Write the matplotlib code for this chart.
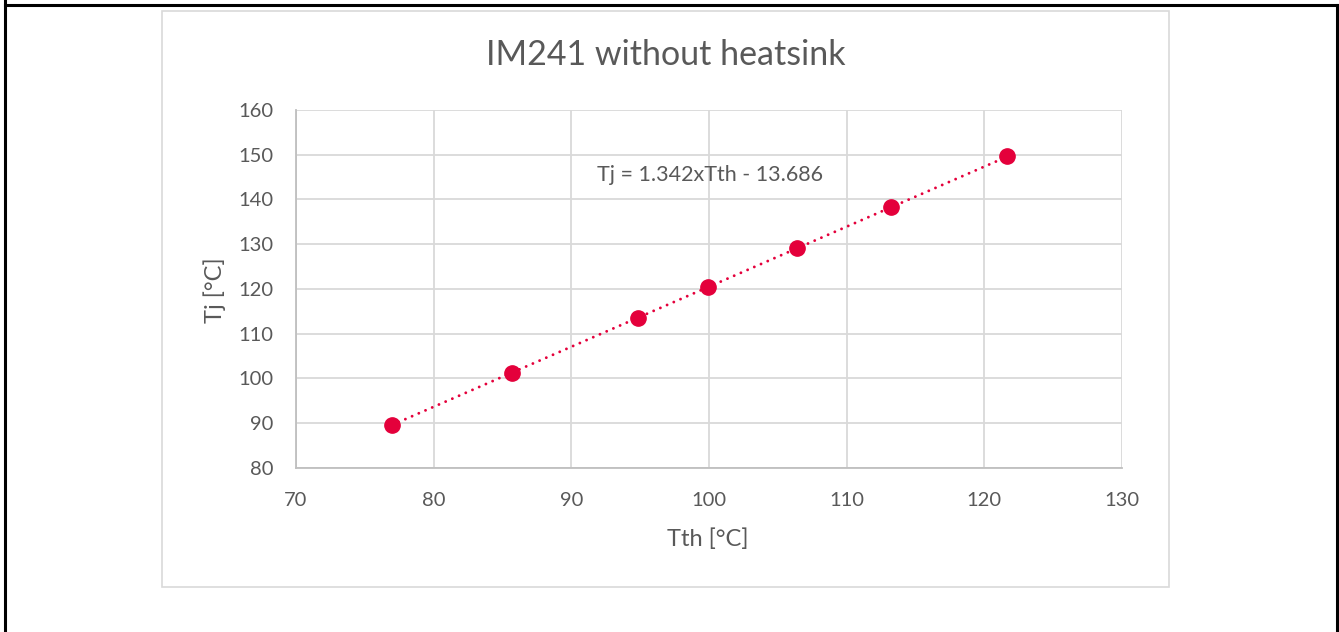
import matplotlib
matplotlib.use("Agg")
import matplotlib.pyplot as plt
from matplotlib.patches import Rectangle
from matplotlib.lines import Line2D
import numpy as np

plt.rcParams['font.family'] = ['Lato', 'DejaVu Sans']

# Data
tth = [76.97, 85.69, 94.84, 99.92, 106.38, 113.2, 121.63]
tj = [89.6, 101.2, 113.5, 120.4, 129.2, 138.3, 149.7]
slope = 1.342
intercept = -13.686
title = "IM241 without heatsink"
xlabel = "Tth [°C]"
ylabel = "Tj [°C]"
equation = "Tj = 1.342xTth - 13.686"
xticks = [70, 80, 90, 100, 110, 120, 130]
yticks = [80, 90, 100, 110, 120, 130, 140, 150, 160]

W, H = 1339, 632
fig = plt.figure(figsize=(W / 100, H / 100), dpi=100)
fig.patch.set_facecolor('white')

def fx(px):
    return px / W

def fy(py):
    return 1 - py / H

# outer black frame (left, top, right)
for xs, ys in [([5, 5], [0, 632]), ([5, 1337], [5, 5]), ([1337, 1337], [5, 632])]:
    fig.add_artist(Line2D([fx(x) for x in xs], [fy(y) for y in ys], color='black',
                          lw=2.2, transform=fig.transFigure))

# chart box
fig.add_artist(Rectangle((fx(162), fy(587)), fx(1169) - fx(162), fy(11) - fy(587),
                         transform=fig.transFigure, fill=False, edgecolor='#D9D9D9', lw=1.2))

gray = '#595959'
red = '#E4003B'

ax = fig.add_axes([fx(296), fy(468), fx(1122) - fx(296), fy(110) - fy(468)])
ax.set_xlim(70, 130)
ax.set_ylim(80, 160)
ax.set_xticks(xticks)
ax.set_yticks(yticks)
ax.grid(True, color='#D9D9D9', lw=1.3)
ax.set_axisbelow(True)
for s in ['top', 'right']:
    ax.spines[s].set_visible(False)
for s in ['left', 'bottom']:
    ax.spines[s].set_color('#BFBFBF')
    ax.spines[s].set_linewidth(1.3)
ax.tick_params(length=0, labelsize=14.5, colors=gray)
ax.tick_params(axis='y', pad=16)
ax.tick_params(axis='x', pad=17)

xt = np.array([tth[0], tth[-1]])
ax.plot(xt, slope * xt + intercept, color=red, lw=2.1, dashes=(0.01, 2.5),
        dash_capstyle='round', zorder=3)
ax.plot(tth, tj, 'o', color=red, ms=11, zorder=4)

ax.text(91.9, 145.5, equation, fontsize=15.5, color=gray, va='center', ha='left')

fig.text(fx(666), fy(55), title, fontsize=24.5, color=gray, ha='center', va='center')
fig.text(fx(708), fy(539), xlabel, fontsize=17, color=gray, ha='center', va='center')
fig.text(fx(215), fy(290), ylabel, fontsize=17, color=gray, ha='center', va='center', rotation=90)

fig.savefig('out.png', dpi=100)
